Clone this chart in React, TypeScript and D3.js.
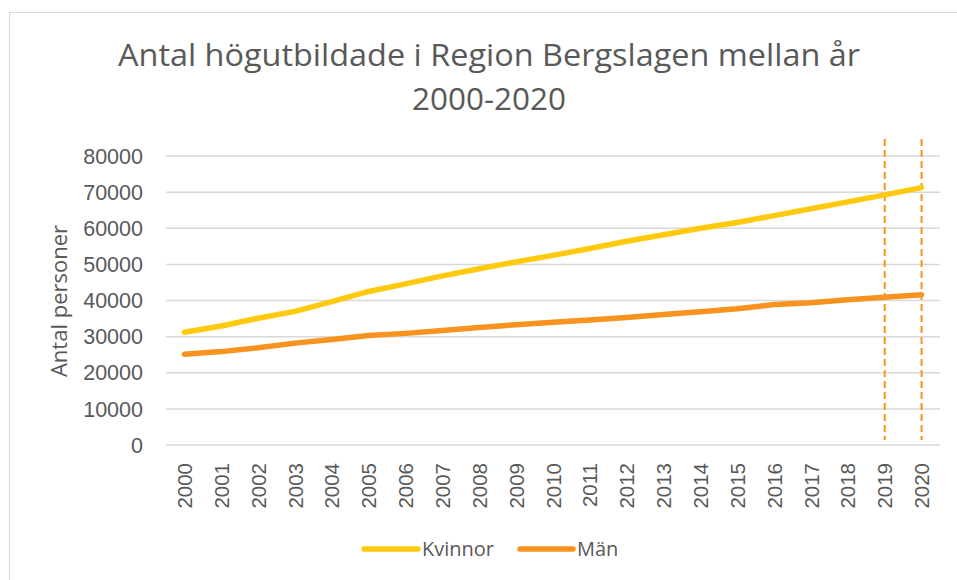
import React from "react";
import * as d3 from "d3";

const years = ["2000","2001","2002","2003","2004","2005","2006","2007","2008","2009","2010","2011","2012","2013","2014","2015","2016","2017","2018","2019","2020"];
const kvinnor = [31200, 32950, 35100, 37000, 39700, 42500, 44600, 46800, 48800, 50700, 52500, 54400, 56400, 58200, 60000, 61600, 63500, 65400, 67300, 69250, 71250];
const man = [25100, 25850, 26900, 28200, 29200, 30300, 30900, 31700, 32500, 33300, 34000, 34600, 35300, 36100, 36900, 37700, 38900, 39400, 40200, 40900, 41600];
const yTicks = [0, 10000, 20000, 30000, 40000, 50000, 60000, 70000, 80000];
const dashedYears = ["2019", "2020"];
const titleLines = ["Antal högutbildade i Region Bergslagen mellan år", "2000-2020"];
const yAxisTitle = "Antal personer";
const seriesNames = ["Kvinnor", "Män"];

const W = 957, H = 580;
const plot = { left: 166, right: 940, top: 156, bottom: 445 };
const cKv = "#FFC90E";
const cMan = "#F7931E";

export default function App() {
  const x = d3.scaleBand<string>().domain(years).range([plot.left, plot.right]);
  const xc = (d: string) => (x(d) as number) + x.bandwidth() / 2;
  const y = d3.scaleLinear().domain([0, 80000]).range([plot.bottom, plot.top]);
  const line = d3.line<number>().x((_, i) => xc(years[i])).y((v) => y(v));

  return (
    <svg width={W} height={H} style={{ position: "absolute", left: 0, top: 0, background: "#fff" }}>
      <rect x={0} y={0} width={W} height={H} fill="#fff" />
      <rect x={9.5} y={12.5} width={W + 20} height={H + 20} fill="none" stroke="#D9D9D9" strokeWidth={1} />
      {titleLines.map((t, i) => (
        <text key={i} x={489} y={66 + i * 44} textAnchor="middle" fontFamily="Open Sans, sans-serif" fontSize={31} fill="#595959"
          {...(i === 0 ? { textLength: 742, lengthAdjust: "spacingAndGlyphs" } : { textLength: 154, lengthAdjust: "spacingAndGlyphs" })}>
          {t}
        </text>
      ))}
      {yTicks.map((t) => (
        <g key={t}>
          <line x1={plot.left} x2={plot.right} y1={y(t)} y2={y(t)} stroke="#D9D9D9" strokeWidth={1.5} />
          <text x={143} y={y(t)} dy="0.36em" textAnchor="end" fontFamily="Liberation Sans, Arial, sans-serif" fontSize={21.5} fill="#595959">{t}</text>
        </g>
      ))}
      {years.map((yr) => (
        <text key={yr} transform={`translate(${xc(yr) + 7.5},463) rotate(-90)`} textAnchor="end" fontFamily="Liberation Sans, Arial, sans-serif" fontSize={20.5} fill="#595959">{yr}</text>
      ))}
      <text transform={`translate(67,301) rotate(-90)`} textAnchor="middle" fontFamily="Open Sans, sans-serif" fontSize={22} fill="#595959">{yAxisTitle}</text>
      {dashedYears.map((yr) => (
        <line key={yr} x1={xc(yr)} x2={xc(yr)} y1={139} y2={440} stroke={cMan} strokeWidth={2} strokeDasharray="7,4" />
      ))}
      <path d={line(kvinnor) || ""} fill="none" stroke={cKv} strokeWidth={5.5} strokeLinecap="round" strokeLinejoin="round" />
      <path d={line(man) || ""} fill="none" stroke={cMan} strokeWidth={5.5} strokeLinecap="round" strokeLinejoin="round" />
      <g>
        <line x1={364} x2={418} y1={549} y2={549} stroke={cKv} strokeWidth={5.5} strokeLinecap="round" />
        <text x={422} y={556} fontFamily="Open Sans, sans-serif" fontSize={20} fill="#595959">{seriesNames[0]}</text>
        <line x1={520} x2={573} y1={549} y2={549} stroke={cMan} strokeWidth={5.5} strokeLinecap="round" />
        <text x={577} y={556} fontFamily="Open Sans, sans-serif" fontSize={20} fill="#595959">{seriesNames[1]}</text>
      </g>
    </svg>
  );
}
